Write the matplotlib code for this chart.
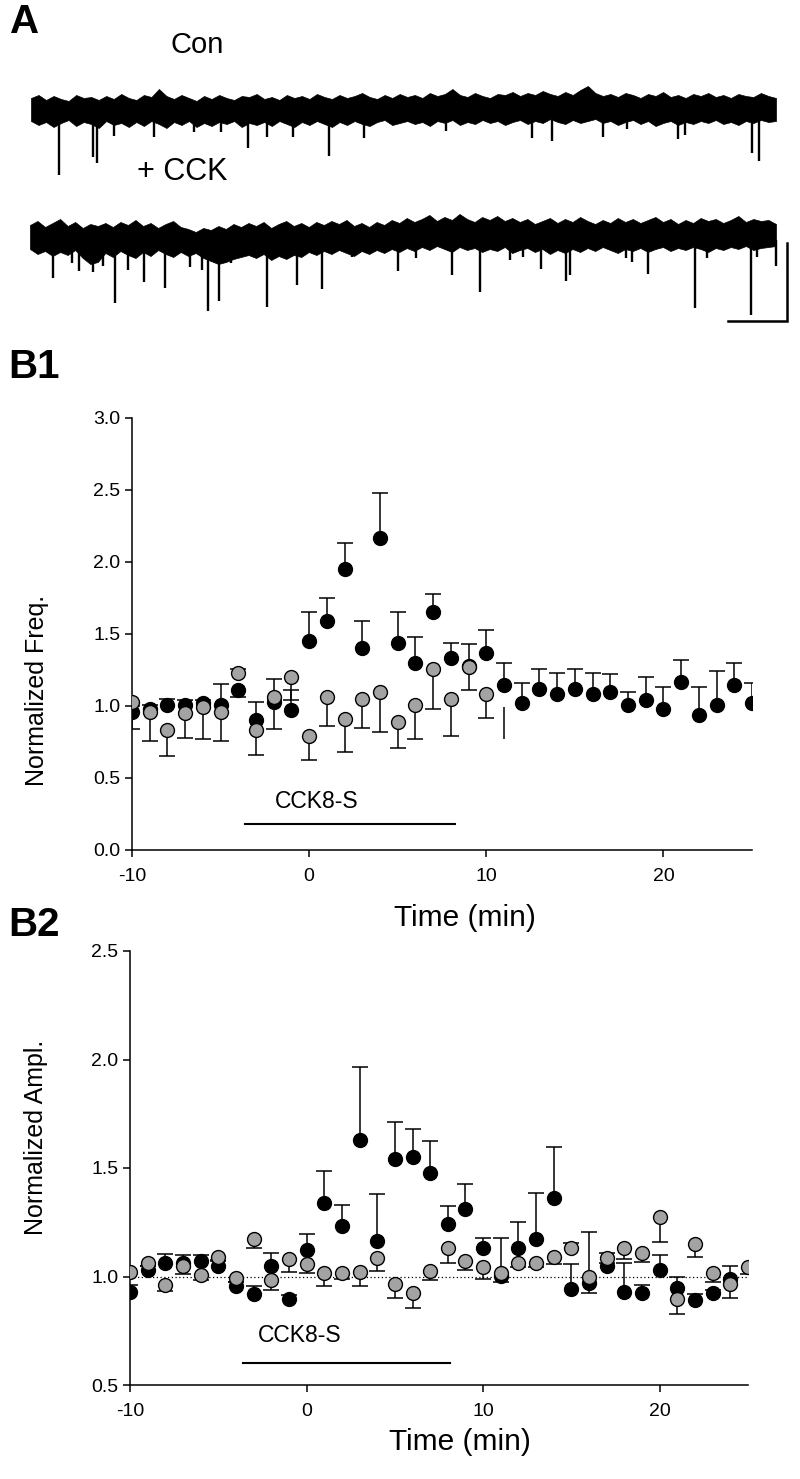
import numpy as np
import matplotlib.pyplot as plt

plt.rcParams['font.family'] = ['Liberation Sans', 'DejaVu Sans']
plt.rcParams['axes.unicode_minus'] = False

# ---- panel A: traces in pixel units ----
con_span = (31, 776)
con_top = [98, 95, 100, 96, 99, 101, 95, 98, 97, 100,
           96, 99, 94, 98, 100, 95, 97, 89, 96, 99,
           95, 98, 101, 96, 99, 95, 98, 100, 96, 97,
           94, 99, 97, 100, 95, 98, 96, 99, 94, 97,
           99, 95, 98, 96, 93, 97, 99, 95, 98, 94,
           97, 95, 98, 93, 96, 94, 89, 95, 97, 93,
           96, 98, 94, 95, 92, 96, 93, 95, 91, 94,
           96, 92, 95, 90, 86, 93, 96, 94, 97, 93,
           95, 98, 94, 96, 92, 97, 95, 98, 94, 96,
           93, 97, 95, 98, 94, 96, 97, 93, 96, 98]
con_bot = [121, 125, 122, 127, 123, 120, 126, 122, 124, 128,
           121, 125, 123, 127, 122, 126, 121, 124, 128, 122,
           125, 121, 127, 123, 126, 122, 124, 121, 127, 123,
           125, 122, 126, 121, 124, 127, 122, 125, 121, 124,
           127, 122, 125, 121, 124, 126, 122, 120, 125, 123,
           121, 124, 122, 126, 121, 123, 120, 125, 122, 124,
           120, 123, 121, 125, 122, 120, 124, 121, 123, 119,
           122, 124, 120, 123, 121, 119, 123, 121, 125, 122,
           120, 124, 121, 126, 123, 121, 125, 122, 124, 121,
           123, 120, 124, 122, 125, 121, 123, 120, 122, 121]
con_spike_x = [59, 93, 97, 114, 154, 194, 221, 248, 267, 293, 329, 364, 446, 532, 552, 603,
               627, 678, 685, 752, 759]
con_spike_tip = [175, 157, 163, 136, 137, 132, 132, 148, 137, 137, 156, 138, 131, 138, 141, 137,
                 129, 139, 135, 153, 161]

cck_span = (30, 776)
cck_top = [225, 221, 227, 223, 219, 226, 222, 228, 224, 226,
           223, 227, 222, 225, 220, 226, 223, 228, 224, 221,
           227, 229, 232, 228, 230, 226, 229, 224, 227, 223,
           226, 222, 228, 224, 221, 226, 223, 227, 222, 225,
           221, 224, 220, 226, 223, 227, 222, 225, 220, 223,
           218, 222, 219, 215, 221, 217, 220, 214, 219, 222,
           217, 220, 216, 221, 218, 222, 219, 224, 221, 218,
           223, 219, 222, 217, 221, 224, 220, 223, 218, 222,
           219, 223, 220, 217, 222, 219, 224, 220, 223, 218,
           221, 219, 223, 220, 216, 222, 219, 221, 220, 224]
cck_bot = [249, 254, 251, 256, 252, 255, 250, 258, 264, 262,
           253, 257, 251, 255, 258, 252, 256, 250, 254, 257,
           252, 256, 253, 258, 261, 264, 262, 259, 257, 255,
           258, 254, 260, 256, 259, 255, 257, 252, 255, 251,
           254, 250, 253, 256, 251, 254, 250, 253, 249, 252,
           248, 251, 247, 250, 246, 249, 252, 247, 250, 248,
           252, 249, 251, 247, 253, 250, 248, 252, 249, 254,
           250, 253, 249, 252, 248, 251, 247, 250, 253, 249,
           251, 248, 252, 249, 247, 251, 248, 250, 247, 249,
           252, 248, 250, 247, 249, 246, 250, 248, 247, 246]
cck_spike_x = [53, 72, 79, 93, 103, 115, 128, 144, 165, 190, 202, 208, 219, 231, 267, 297, 322,
               352, 398, 416, 452, 480, 510, 523, 541, 566, 570, 626, 632, 648, 695, 707, 751,
               757, 776]
cck_spike_tip = [278, 263, 271, 272, 266, 303, 270, 282, 288, 267, 270, 311, 301, 263, 307, 285,
                 289, 257, 271, 258, 275, 292, 260, 257, 269, 281, 275, 258, 262, 274, 308, 258,
                 315, 257, 266]

# ---- panel B1: normalized frequency ----
time = np.arange(-10, 26)
b1_black = [0.96, 0.98, 1.01, 1.01, 1.02, 1.01, 1.11, 0.90, 1.03, 0.97, 1.45, 1.59, 1.95, 1.40,
            2.17, 1.435, 1.30, 1.65, 1.33, 1.28, 1.37, 1.145, 1.02, 1.12, 1.08, 1.12, 1.08, 1.095,
            1.01, 1.04, 0.98, 1.17, 0.94, 1.01, 1.145, 1.02]
b1_black_up = [0.04, 0.03, 0.04, 0.03, 0.02, 0.14, 0.0, 0.13, 0.16, 0.14, 0.20, 0.16, 0.18, 0.19,
               0.31, 0.215, 0.18, 0.13, 0.11, 0.15, 0.16, 0.155, 0.14, 0.14, 0.15, 0.14, 0.15,
               0.125, 0.09, 0.16, 0.15, 0.15, 0.19, 0.23, 0.155, 0.14]
b1_black_dn = [0] * 6 + [0.05] + [0] * 29
b1_gray_t = np.arange(-10, 11)
b1_gray = [1.03, 0.96, 0.83, 0.95, 0.99, 0.96, 1.23, 0.83, 1.06, 1.20, 0.79, 1.06, 0.91, 1.05,
           1.10, 0.89, 1.01, 1.26, 1.05, 1.27, 1.08]
b1_gray_up = [0] * 6 + [0.03] + [0] * 14
b1_gray_dn = [0.19, 0.20, 0.18, 0.17, 0.22, 0.20, 0, 0.17, 0.22, 0.16, 0.165, 0.20, 0.23, 0.205,
              0.28, 0.18, 0.24, 0.28, 0.26, 0.16, 0.16]
b1_stray = (11, 0.77, 0.99)

# ---- panel B2: normalized amplitude ----
b2_black = [0.93, 1.03, 1.06, 1.064, 1.07, 1.05, 0.956, 0.92, 1.048, 0.895, 1.12, 1.337, 1.234,
            1.629, 1.165, 1.54, 1.552, 1.475, 1.24, 1.31, 1.133, 1.002, 1.133, 1.171, 1.363, 0.941,
            0.971, 1.048, 0.93, 0.925, 1.03, 0.948, 0.892, 0.925, 0.99, np.nan]
b2_black_up = [0.03, 0.02, 0.045, 0.036, 0.03, 0.02, 0.017, 0.038, 0.06, 0.02, 0.075, 0.15, 0.096,
               0.338, 0.215, 0.17, 0.126, 0.151, 0.085, 0.115, 0.043, 0.174, 0.12, 0.212, 0.235,
               0.116, 0, 0.012, 0.13, 0.035, 0.07, 0.052, 0.026, 0.013, 0.06, 0]
b2_black_dn = [0] * 26 + [0.048] + [0] * 9
b2_gray = [1.022, 1.06, 0.96, 1.048, 1.007, 1.088, 0.995, 1.174, 0.984, 1.08, 1.056, 1.015, 1.018,
           1.022, 1.084, 0.965, 0.923, 1.025, 1.133, 1.071, 1.042, 1.015, 1.06, 1.064, 1.088, 1.13,
           0.999, 1.087, 1.13, 1.11, 1.276, 0.895, 1.15, 1.018, 0.965, 1.042]
b2_gray_up = [0] * 25 + [0.023, 0.207, 0.023] + [0] * 8
b2_gray_dn = [0, 0.01, 0.027, 0.038, 0.023, 0.01, 0.022, 0.044, 0.046, 0.058, 0.041, 0.059, 0.031,
              0.066, 0.057, 0.065, 0.067, 0.041, 0.073, 0.041, 0.055, 0.039, 0.018, 0.019, 0.031,
              0, 0, 0, 0.05, 0.045, 0.118, 0.068, 0.059, 0.043, 0.065, 0.032]

GRAY = '#a3a3a3'
fig = plt.figure(figsize=(8, 14.79), dpi=100)


def draw_trace(ax, span, top, bot, sx, stip, base):
    x = np.linspace(span[0], span[1], len(top))
    ax.fill_between(x, top, bot, color='black', lw=0.5, edgecolor='black')
    ax.vlines(sx, base, stip, color='black', lw=1.7)


axA = fig.add_axes([0, 1 - 330 / 1479, 1, 330 / 1479])
axA.set_xlim(0, 800)
axA.set_ylim(330, 0)
axA.axis('off')
draw_trace(axA, con_span, con_top, con_bot, con_spike_x, con_spike_tip, 115)
draw_trace(axA, cck_span, cck_top, cck_bot, cck_spike_x, cck_spike_tip, 240)
axA.plot([787, 787, 728], [243, 321, 321], color='black', lw=1.8, solid_joinstyle='miter')
axA.text(170, 45, 'Con', fontsize=21, va='center', ha='left')
axA.text(137, 172, '+ CCK', fontsize=22, va='center', ha='left')
fig.text(10 / 800, 1 - 22 / 1479, 'A', fontsize=29, fontweight='bold', va='center')
fig.text(8 / 800, 1 - 367 / 1479, 'B1', fontsize=29, fontweight='bold', va='center')
fig.text(8 / 800, 1 - 925 / 1479, 'B2', fontsize=29, fontweight='bold', va='center')


def errs(ax, t, y, up, dn):
    t = np.asarray(t, float)
    y = np.asarray(y, float)
    up = np.asarray(up, float)
    dn = np.asarray(dn, float)
    for e, sgn in ((up, 1), (dn, -1)):
        m = (e > 0) & ~np.isnan(y)
        ends = y[m] + sgn * e[m]
        ax.vlines(t[m], y[m], ends, color='black', lw=1.1, zorder=2)
        ax.plot(t[m], ends, ls='none', marker='_', ms=11, mew=1.1, color='black', zorder=2)


def style(ax, ylim, yticks, ylabel, ylab_pos, xlab_pos):
    ax.set_xlim(-10, 25)
    ax.set_ylim(*ylim)
    ax.set_xticks([-10, 0, 10, 20])
    ax.set_yticks(yticks)
    ax.set_yticklabels([f'{v:.1f}' for v in yticks])
    for s in ('top', 'right'):
        ax.spines[s].set_visible(False)
    for s in ('left', 'bottom'):
        ax.spines[s].set_linewidth(1.1)
    ax.tick_params(direction='out', length=5, width=1.1, labelsize=14)
    ax.tick_params(axis='x', pad=8)
    ax.set_ylabel(ylabel, fontsize=18)
    ax.set_xlabel('Time (min)', fontsize=21.5)
    ax.yaxis.set_label_coords(*ylab_pos)
    ax.xaxis.set_label_coords(*xlab_pos)


# B1
ax1 = fig.add_axes([132 / 800, 1 - 850 / 1479, 620 / 800, 432 / 1479])
errs(ax1, time, b1_black, b1_black_up, b1_black_dn)
errs(ax1, b1_gray_t, b1_gray, b1_gray_up, b1_gray_dn)
ax1.vlines(b1_stray[0], b1_stray[1], b1_stray[2], color='black', lw=1.1)
ax1.plot(time, b1_black, 'o', ms=10, mfc='black', mec='black', mew=1, zorder=3)
ax1.plot(b1_gray_t, b1_gray, 'o', ms=10, mfc=GRAY, mec='black', mew=1, zorder=4)
ax1.plot([-3.6, 8.25], [0.18, 0.18], color='black', lw=1.5)
ax1.text(0.4, 0.34, 'CCK8-S', fontsize=16.5, ha='center', va='center')
style(ax1, (0, 3.0), [0.0, 0.5, 1.0, 1.5, 2.0, 2.5, 3.0], 'Normalized Freq.',
      (-0.134, 0.37), (0.537, -0.125))

# B2
ax2 = fig.add_axes([130 / 800, 1 - 1385 / 1479, 618 / 800, 434 / 1479])
ax2.plot([-10, 25], [1.0, 1.0], ls=(0, (1, 2)), color='black', lw=0.9, zorder=1)
errs(ax2, time, b2_black, b2_black_up, b2_black_dn)
errs(ax2, time, b2_gray, b2_gray_up, b2_gray_dn)
ax2.plot(time, b2_black, 'o', ms=10, mfc='black', mec='black', mew=1, zorder=3)
ax2.plot(time, b2_gray, 'o', ms=10, mfc=GRAY, mec='black', mew=1, zorder=4)
ax2.plot([-3.6, 8.15], [0.60, 0.60], color='black', lw=1.5)
ax2.text(-0.4, 0.73, 'CCK8-S', fontsize=16.5, ha='center', va='center')
style(ax2, (0.5, 2.5), [0.5, 1.0, 1.5, 2.0, 2.5], 'Normalized Ampl.',
      (-0.133, 0.57), (0.534, -0.1))

fig.savefig('out.png', dpi=100)
